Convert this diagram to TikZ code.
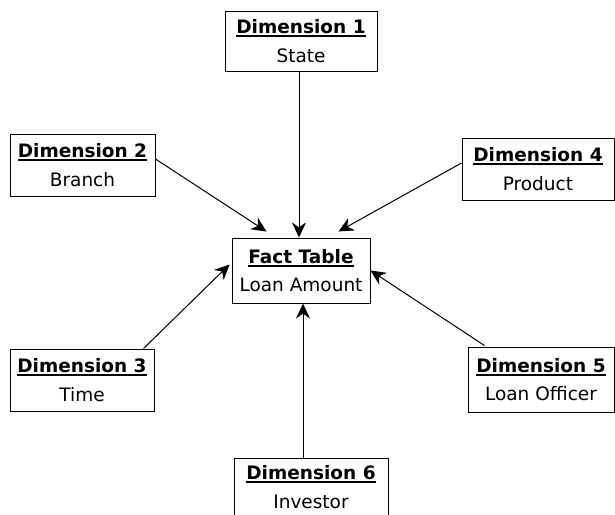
\documentclass[tikz,border=0pt]{standalone}
\usepackage{fontspec}
\setmainfont{DejaVu Sans}
\usetikzlibrary{arrows.meta}
\newcommand{\ulbf}[1]{\setbox0\hbox{\textbf{#1}}\rlap{\rule[-3.5pt]{\wd0}{1.8pt}}\box0}

\begin{document}
\begin{tikzpicture}[>={Stealth[length=15pt,width=14pt]}, x=1pt, y=-1pt,
  dimbox/.style={draw, line width=1pt, inner sep=0pt, align=center, minimum height=62pt, font=\fontsize{18.5}{28.5}\selectfont},
  link/.style={->, line width=1pt}]
\clip (0,0) rectangle (615,514);
\fill[white] (0,0) rectangle (615,514);

% fact table in the middle
\node[dimbox, minimum width=138pt, minimum height=65pt] (fact) at (301,270.5) {\ulbf{Fact Table}\\Loan Amount};

% dimensions round it
\node[dimbox, minimum width=152pt, minimum height=60pt] (dim1) at (301,41) {\ulbf{Dimension 1}\\State};
\node[dimbox, minimum width=145pt] (dim2) at (82.5,165) {\ulbf{Dimension 2}\\Branch};
\node[dimbox, minimum width=144pt] (dim3) at (82,380) {\ulbf{Dimension 3}\\Time};
\node[dimbox, minimum width=152pt] (dim4) at (538,169) {\ulbf{Dimension 4}\\Product};
\node[dimbox, minimum width=146pt, minimum height=65pt] (dim5) at (541,379.5) {\ulbf{Dimension 5}\\Loan Officer};
\node[dimbox, minimum width=154pt, minimum height=58pt] (dim6) at (311,487) {\ulbf{Dimension 6}\\Investor};

\draw[link] ([xshift=-2pt]dim1.south) -- ([xshift=-2pt]fact.north);
\draw[link] ([yshift=6pt]dim2.east) -- ([xshift=35pt,yshift=6pt]fact.north west);
\draw[link] ([yshift=6pt]dim4.west) -- ([xshift=-32pt,yshift=6pt]fact.north east);
\draw[link] ([xshift=-11pt]dim3.north east) -- ([xshift=-2pt,yshift=6pt]fact.west);
\draw[link] ([xshift=17pt,yshift=1pt]dim5.north west) -- (fact.east);
\draw[link] ([xshift=-8pt]dim6.north) -- ([xshift=2pt]fact.south);
\end{tikzpicture}
\end{document}
